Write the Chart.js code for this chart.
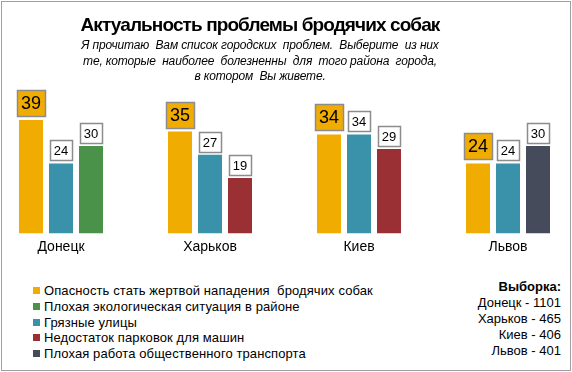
<!DOCTYPE html>
<html>
<head>
<meta charset="utf-8">
<script src="https://cdn.jsdelivr.net/npm/chart.js@4/dist/chart.umd.min.js"></script>
<style>
  body { margin: 0; background: #fff; font-family: "Liberation Sans", Arial, sans-serif; }
  #wrap { position: relative; width: 572px; height: 372px; overflow: hidden; }
  #frame { position: absolute; left: 1px; top: 1px; width: 568px; height: 368px; border: 1px solid #a0a0a0; }
  #chart { position: absolute; left: 0; top: 0; }
  .title { position: absolute; left: 0; width: 520px; top: 14px; text-align: center;
           font-weight: bold; font-size: 19px; letter-spacing: -0.9px; color: #000; }
  .sub { position: absolute; left: 0; width: 520px; top: 38px; text-align: center;
         font-style: italic; font-size: 12px; line-height: 15.5px; letter-spacing: -0.15px; white-space: pre; color: #000; }
  .legend { position: absolute; left: 33px; top: 283px; font-size: 13px; line-height: 15.8px; }
  .legend div { white-space: pre; letter-spacing: 0.1px; }
  .legend span { display: inline-block; width: 7px; height: 7px; margin-right: 4px; vertical-align: 1px; }
  .sample { position: absolute; right: 11px; top: 279px; text-align: right; font-size: 13px; line-height: 16px; }
</style>
</head>
<body>
<div id="wrap">
  <div id="frame"></div>
  <canvas id="chart" width="572" height="262"></canvas>
  <div class="title">Актуальность проблемы бродячих собак</div>
  <div class="sub">Я прочитаю  Вам список городских  проблем.  Выберите  из них
те, которые  наиболее  болезненны  для  того района  города,
в котором  Вы живете.</div>
  <div class="legend" id="legend"></div>
  <div class="sample" id="sample"></div>
</div>
<script>
// города
const cities = ["Донецк", "Харьков", "Киев", "Львов"];
// проценты
const dogs = [39, 35, 34, 24];
const dirty = [24, 27, 34, 24];
const third = [30, 19, 29, 30];
// легенда
const legendNames = [
    "Опасность стать жертвой нападения  бродячих собак",
    "Плохая экологическая ситуация в районе",
    "Грязные улицы",
    "Недостаток парковок для машин",
    "Плохая работа общественного транспорта"
];
const sampleCities = ["Донецк", "Харьков", "Киев", "Львов"];
const sampleSizes = [1101, 465, 406, 401];

const orange = "#f0ac00";
const teal = "#3a91aa";
const green = "#4a914a";
const red = "#9a3033";
const slate = "#454b5b";
const legendColors = [orange, green, teal, red, slate];
const thirdColors = [green, red, red, slate];

// подписи значений в рамках
const valueBoxes = {
    id: "valueBoxes",
    afterDatasetsDraw(chart) {
        const ctx = chart.ctx;
        chart.data.datasets.forEach((ds, i) => {
            const big = i === 0;
            chart.getDatasetMeta(i).data.forEach((bar, j) => {
                const txt = String(ds.data[j]);
                ctx.save();
                ctx.font = (big ? "18px" : "13px") + ' "Liberation Sans", Arial, sans-serif';
                const w = Math.round(ctx.measureText(txt).width) + 8;
                const h = big ? 26 : 20;
                const x = Math.round(bar.x - w / 2) + 0.5;
                const y = Math.round(bar.y - (big ? 4 : 3) - h) + 0.5;
                ctx.fillStyle = big ? orange : "#fff";
                ctx.fillRect(x, y, w, h);
                ctx.strokeStyle = "#8c8c8c";
                ctx.lineWidth = 1.5;
                ctx.strokeRect(x, y, w, h);
                ctx.fillStyle = "#000";
                ctx.textAlign = "center";
                ctx.textBaseline = "middle";
                ctx.fillText(txt, bar.x, y + h / 2 + 1);
                ctx.restore();
            });
        });
    }
};

new Chart(document.getElementById("chart").getContext("2d"), {
    type: "bar",
    data: {
        labels: cities,
        datasets: [
            { data: dogs, backgroundColor: orange },
            { data: dirty, backgroundColor: teal },
            { data: third, backgroundColor: thirdColors }
        ]
    },
    options: {
        responsive: false,
        animation: false,
        events: [],
        categoryPercentage: 0.604,
        barPercentage: 0.8,
        datasets: { bar: { clip: false } },
        layout: { padding: { left: 61, right: 64, top: 117, bottom: 0 } },
        plugins: { legend: { display: false }, tooltip: { enabled: false } },
        scales: {
            x: {
                offset: false,
                grid: { display: false, drawTicks: false },
                border: { display: false },
                ticks: { color: "#000", padding: 6, font: { family: "Liberation Sans", size: 14 } }
            },
            y: { display: false, min: 0, max: 40 }
        }
    },
    plugins: [valueBoxes]
});

// легенда и выборка
document.getElementById("legend").innerHTML = legendNames
    .map((n, i) => '<div><span style="background:' + legendColors[i] + '"></span>' + n + "</div>").join("");
document.getElementById("sample").innerHTML = "<b>Выборка:</b><br>" + sampleCities
    .map((c, i) => c + " - " + sampleSizes[i]).join("<br>");
</script>
</body>
</html>
